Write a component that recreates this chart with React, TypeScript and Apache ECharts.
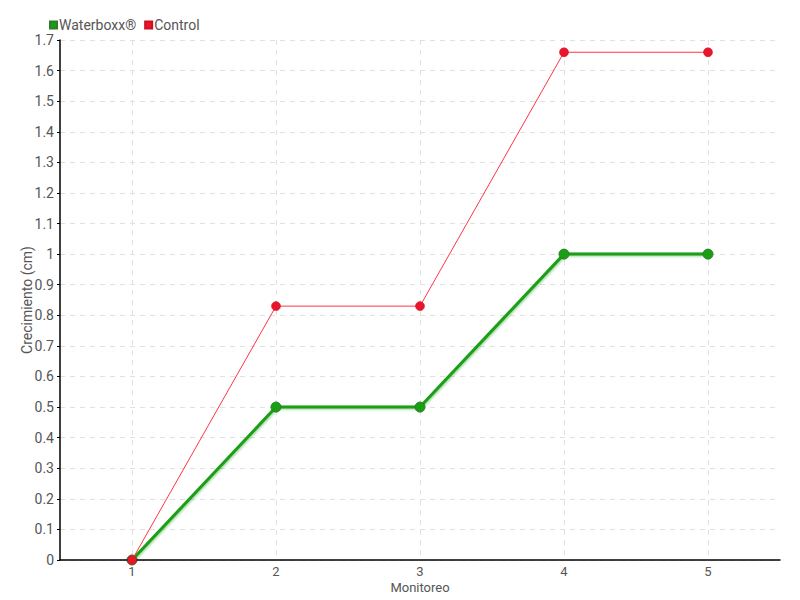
import React, { useEffect, useRef } from "react";
import * as echarts from "echarts";

const categories = ["1", "2", "3", "4", "5"];
const waterboxx = [0, 0.5, 0.5, 1, 1];
const control = [0, 0.83, 0.83, 1.66, 1.66];

const FONT = "Roboto, 'DejaVu Sans', sans-serif";
const TXT = "#555";

export default function App() {
  const ref = useRef<HTMLDivElement>(null);
  useEffect(() => {
    if (!ref.current) return;
    const chart = echarts.init(ref.current, undefined, { renderer: "svg" });
    // helper axis for vertical grid lines at category centres
    const halfCats: string[] = [];
    for (let i = 0; i <= categories.length * 2; i++) halfCats.push("h" + i);
    chart.setOption({
      animation: false,
      backgroundColor: "#ffffff",
      textStyle: { fontFamily: FONT },
      legend: {
        left: 44,
        top: 13,
        itemWidth: 7,
        itemHeight: 7,
        itemGap: 8,
        icon: "rect",
        textStyle: { fontFamily: FONT, fontSize: 14, color: TXT, padding: [0, 0, 0, -3] },
        data: ["Waterboxx®", "Control"],
      },
      grid: { left: 60, right: 20, top: 40, bottom: 40, outerBoundsMode: "none", containLabel: false },
      xAxis: [
        {
          type: "category",
          data: categories,
          boundaryGap: true,
          name: "Monitoreo",
          nameLocation: "middle",
          nameGap: 20,
          nameMoveOverlap: false,
          nameTextStyle: { fontFamily: FONT, fontSize: 13, color: TXT, lineHeight: 14 },
          axisLine: { lineStyle: { color: "#000", width: 1.5 } },
          axisTick: { show: false },
          axisLabel: { fontFamily: FONT, fontSize: 13, color: TXT, margin: 4, lineHeight: 14 },
          splitLine: { show: false },
          z: 3,
        },
        {
          type: "category",
          data: halfCats,
          boundaryGap: false,
          show: true,
          axisLine: { show: false },
          axisTick: { show: false },
          axisLabel: { show: false },
          position: "bottom",
          splitLine: {
            show: true,
            interval: (i: number) => i % 2 === 1,
            lineStyle: { color: "#e0e0e0", type: [5, 5] },
          },
        },
      ],
      yAxis: {
        type: "value",
        min: 0,
        max: 1.7,
        interval: 0.1,
        name: "Crecimiento (cm)",
        nameLocation: "middle",
        nameGap: 26,
        nameMoveOverlap: false,
        nameTextStyle: { fontFamily: FONT, fontSize: 14, color: TXT },
        axisLine: { show: true, lineStyle: { color: "#000", width: 1.5 } },
        axisTick: { show: true, length: 3, lineStyle: { color: "#000" } },
        axisLabel: {
          fontFamily: FONT,
          fontSize: 14,
          color: TXT,
          margin: 6,
          formatter: (v: number) => String(Math.round(v * 10) / 10),
        },
        splitLine: { show: true, lineStyle: { color: "#e0e0e0", type: [5, 5] } },
      },
      series: [
        {
          name: "Waterboxx®",
          type: "line",
          data: waterboxx,
          symbol: "circle",
          symbolSize: 10,
          lineStyle: { color: "#1a9e14", width: 3, shadowColor: "rgba(26,158,20,0.45)", shadowBlur: 2, shadowOffsetX: 1, shadowOffsetY: 1 },
          itemStyle: { color: "#1a9e14", borderColor: "#2e7d2a", borderWidth: 1 },
          z: 2,
        },
        {
          name: "Control",
          type: "line",
          data: control,
          symbol: "circle",
          symbolSize: 9,
          lineStyle: { color: "#ff3548", width: 1 },
          itemStyle: { color: "#e8162a", borderColor: "#d01020", borderWidth: 0.5 },
          z: 3,
        },
      ],
    });
    return () => chart.dispose();
  }, []);
  return <div ref={ref} style={{ width: 800, height: 600, position: "absolute", left: 0, top: 0 }} />;
}
